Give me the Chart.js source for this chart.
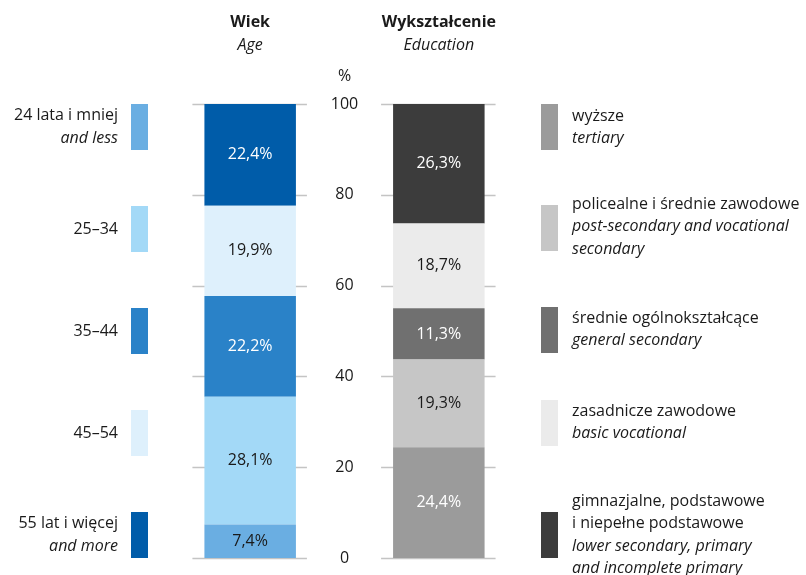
<!DOCTYPE html>
<html>
<head>
<meta charset="utf-8">
<script src="https://cdn.jsdelivr.net/npm/chart.js@4.4.0/dist/chart.umd.min.js"></script>
<style>
  html, body { margin: 0; padding: 0; background: #ffffff; }
  #wrap { position: relative; width: 806px; height: 575px; }
</style>
</head>
<body>
<div id="wrap"><canvas id="chart" width="806" height="575"></canvas></div>
<script>
// groups on the x axis (middle slot holds the % scale)
const groups = ['Wiek', '', 'Wykształcenie'];
const groupsEn = ['Age', '', 'Education'];

// age, bottom to top
const ageLabels = ['24 lata i mniej', '25–34', '35–44', '45–54', '55 lat i więcej'];
const ageLabelsEn = ['and less', '', '', '', 'and more'];
const ageValues = [7.4, 28.1, 22.2, 19.9, 22.4];
const ageColors = ['#6aaee2', '#a3d9f7', '#2a82c8', '#def0fc', '#005ca9'];
const ageTextColors = ['#1a1a1a', '#1a1a1a', '#ffffff', '#1a1a1a', '#ffffff'];

// education, bottom to top
const eduLabels = ['wyższe', 'policealne i średnie zawodowe', 'średnie ogólnokształcące', 'zasadnicze zawodowe', 'gimnazjalne, podstawowe|i niepełne podstawowe'];
const eduLabelsEn = ['tertiary', 'post-secondary and vocational|secondary', 'general secondary', 'basic vocational', 'lower secondary, primary|and incomplete primary'];
const eduValues = [24.4, 19.3, 11.3, 18.7, 26.3];
const eduColors = ['#9b9b9b', '#c6c6c6', '#707070', '#ebebeb', '#3c3c3c'];
const eduTextColors = ['#ffffff', '#1a1a1a', '#ffffff', '#1a1a1a', '#ffffff'];

const yTicks = [0, 20, 40, 60, 80, 100];

const FONT = '"Open Sans", "Noto Sans", sans-serif';
const TEXT = '#1a1a1a';
const SIZE = '16px ';

const datasets = [];
ageValues.forEach(function(v, i) {
    datasets.push({
        label: ageLabels[i],
        data: [v, null, null],
        backgroundColor: ageColors[i],
        textColor: ageTextColors[i],
        stack: 's'
    });
});
eduValues.forEach(function(v, i) {
    datasets.push({
        label: eduLabels[i],
        data: [null, null, v],
        backgroundColor: eduColors[i],
        textColor: eduTextColors[i],
        stack: 's'
    });
});

function fmt(v) {
    return v.toFixed(1).replace('.', ',') + '%';
}

const decorPlugin = {
    id: 'decor',
    beforeDatasetsDraw: function(chart) {
        const ctx = chart.ctx;
        const y = chart.scales.y;
        const meta0 = chart.getDatasetMeta(0).data[0];
        const meta1 = chart.getDatasetMeta(ageValues.length).data[2];
        ctx.save();
        ctx.strokeStyle = '#c4c4c4';
        ctx.lineWidth = 1.5;
        yTicks.forEach(function(t) {
            const py = Math.round(y.getPixelForValue(t)) + 0.5;
            [meta0, meta1].forEach(function(b) {
                ctx.beginPath();
                ctx.moveTo(b.x - b.width / 2 - 12, py);
                ctx.lineTo(b.x + b.width / 2 + 11, py);
                ctx.stroke();
            });
        });
        ctx.restore();
    },
    afterDatasetsDraw: function(chart) {
        const ctx = chart.ctx;
        const x = chart.scales.x;
        const y = chart.scales.y;
        ctx.save();
        ctx.textAlign = 'center';
        ctx.textBaseline = 'middle';
        ctx.font = SIZE + FONT;
        chart.data.datasets.forEach(function(ds, i) {
            const meta = chart.getDatasetMeta(i);
            meta.data.forEach(function(bar, j) {
                const v = ds.data[j];
                if (v == null) return;
                ctx.fillStyle = ds.textColor;
                ctx.fillText(fmt(v), bar.x, (bar.y + bar.base) / 2);
            });
        });

        // middle scale labels
        const cx = x.getPixelForValue(1);
        ctx.fillStyle = TEXT;
        ctx.font = SIZE + FONT;
        yTicks.forEach(function(t) {
            ctx.fillText(String(t), cx, y.getPixelForValue(t));
        });
        ctx.fillText('%', cx, y.getPixelForValue(100) - 28);

        // group titles
        [0, 2].forEach(function(g) {
            const gx = x.getPixelForValue(g);
            ctx.font = 'bold ' + SIZE + FONT;
            ctx.fillText(groups[g], gx, 22);
            ctx.font = 'italic ' + SIZE + FONT;
            ctx.fillText(groupsEn[g], gx, 45);
        });

        // left legend (top to bottom as shown)
        const lineH = 22.5;
        ctx.textAlign = 'right';
        ageLabels.forEach(function(lbl, i) {
            const top = 104 + i * 102;
            ctx.fillStyle = ageColors[i];
            ctx.fillRect(131, top, 17, 46);
            ctx.fillStyle = TEXT;
            const lines = [{ t: lbl, it: false }];
            if (ageLabelsEn[i]) lines.push({ t: ageLabelsEn[i], it: true });
            const mid = top + 23;
            const start = mid - (lines.length - 1) * lineH / 2;
            lines.forEach(function(l, k) {
                ctx.font = (l.it ? 'italic ' : '') + SIZE + FONT;
                ctx.fillText(l.t, 118, start + k * lineH);
            });
        });

        // right legend
        const rightTops = [104, 205, 307, 400, 512];
        const textStarts = [116, 204, 318, 411, 501];
        ctx.textAlign = 'left';
        eduLabels.forEach(function(lbl, i) {
            const top = rightTops[i];
            ctx.fillStyle = eduColors[i];
            ctx.fillRect(541, top, 17, 46);
            ctx.fillStyle = TEXT;
            const lines = [];
            lbl.split('|').forEach(function(s) { lines.push({ t: s, it: false }); });
            eduLabelsEn[i].split('|').forEach(function(s) { lines.push({ t: s, it: true }); });
            lines.forEach(function(l, k) {
                ctx.font = (l.it ? 'italic ' : '') + SIZE + FONT;
                ctx.fillText(l.t, 572, textStarts[i] + k * lineH);
            });
        });
        ctx.restore();
    }
};

new Chart(document.getElementById('chart'), {
    type: 'bar',
    data: { labels: groups, datasets: datasets },
    options: {
        responsive: false,
        animation: false,
        layout: { padding: { left: 203, right: 320, top: 104, bottom: 17 } },
        datasets: { bar: { barPercentage: 0.97, categoryPercentage: 1.0, borderWidth: 0 } },
        scales: {
            x: { stacked: true, display: false },
            y: { stacked: true, display: false, min: 0, max: 100 }
        },
        plugins: {
            legend: { display: false },
            tooltip: { enabled: false }
        }
    },
    plugins: [decorPlugin]
});
</script>
</body>
</html>
